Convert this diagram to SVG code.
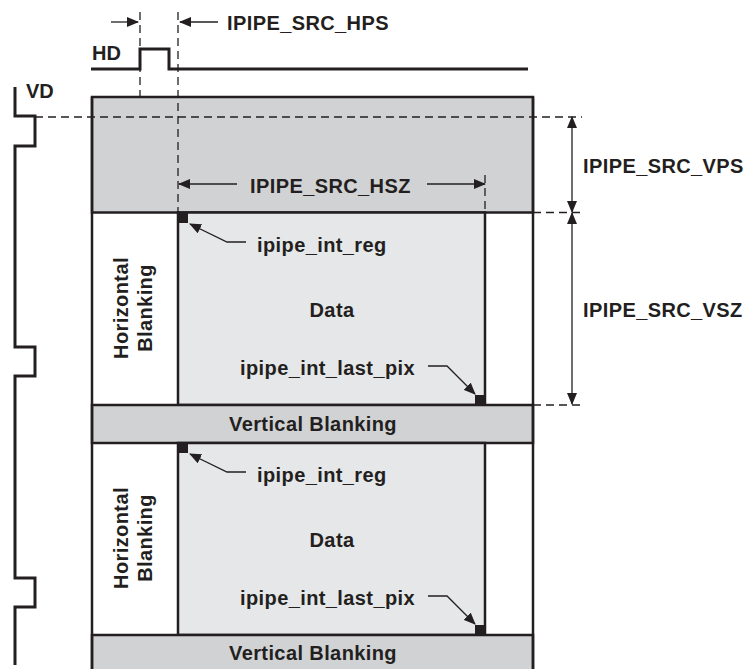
<svg xmlns="http://www.w3.org/2000/svg" width="748" height="669" viewBox="0 0 748 669">
<style>
text{font-family:"Liberation Sans",Arial,sans-serif;font-weight:bold;fill:#231f20;font-size:20px;letter-spacing:0.4px}
.wave{fill:none;stroke:#231f20;stroke-width:3}
.frame{fill:none;stroke:#231f20;stroke-width:2.5}
.dash{fill:none;stroke:#231f20;stroke-width:1.3;stroke-dasharray:8 5}
.thin{fill:none;stroke:#231f20;stroke-width:1.3}
.band{fill:#d1d2d4;stroke:#231f20;stroke-width:2.5}
.data{fill:#e6e7e8;stroke:#231f20;stroke-width:2.5}
.mark{fill:#231f20}
</style>
<defs>
<marker id="ah" markerWidth="12" markerHeight="10" refX="11" refY="5" orient="auto" markerUnits="userSpaceOnUse">
<path d="M0,0 L12,5 L0,10 Z" fill="#231f20"/>
</marker>
</defs>
<rect width="748" height="669" fill="#ffffff"/>

<g id="frame">
<rect x="92" y="97" width="441" height="115.5" class="band"/>
<rect x="178" y="212.5" width="307" height="192.5" class="data"/>
<rect x="92" y="405" width="441" height="38" class="band"/>
<rect x="178" y="443" width="307" height="192" class="data"/>
<rect x="92" y="635" width="441" height="40" class="band"/>
<line x1="92" y1="97" x2="92" y2="669" class="frame"/>
<line x1="533" y1="97" x2="533" y2="669" class="frame"/>
</g>

<g id="hd">
<polyline points="91,69 140,69 140,49 169,49 169,69 528,69" class="wave"/>
<text x="92" y="60" style="letter-spacing:0">HD</text>
</g>

<g id="vd">
<polyline points="15,87 15,116 35,116 35,146 15,146 15,347 35,347 35,376 15,376 15,578 35,578 35,607 15,607 15,665" class="wave"/>
<text x="26" y="98" style="letter-spacing:0">VD</text>
</g>

<g id="hblank1">
<g transform="translate(134,308) rotate(-90)">
<text x="0" y="-6.5" text-anchor="middle">Horizontal</text>
<text x="0" y="17.5" text-anchor="middle">Blanking</text>
</g>
</g>
<g id="data1">
<rect x="179" y="213" width="9" height="10" class="mark"/>
<rect x="475" y="395" width="10" height="10" class="mark"/>
<text x="332" y="317" text-anchor="middle">Data</text>
<text x="257" y="252">ipipe_int_reg</text>
<text x="240" y="375">ipipe_int_last_pix</text>
</g>
<g id="vblank1">
<text x="313" y="431" text-anchor="middle">Vertical Blanking</text>
</g>

<g id="hblank2">
<g transform="translate(134,538) rotate(-90)">
<text x="0" y="-6.5" text-anchor="middle">Horizontal</text>
<text x="0" y="17.5" text-anchor="middle">Blanking</text>
</g>
</g>
<g id="data2">
<rect x="179" y="443" width="9" height="10" class="mark"/>
<rect x="475" y="625" width="10" height="10" class="mark"/>
<text x="332" y="547" text-anchor="middle">Data</text>
<text x="257" y="482">ipipe_int_reg</text>
<text x="240" y="605">ipipe_int_last_pix</text>
</g>
<g id="vblank2">
<text x="313" y="660" text-anchor="middle">Vertical Blanking</text>
</g>

<g id="labels">
<text x="227" y="30">IPIPE_SRC_HPS</text>
<text x="250" y="193">IPIPE_SRC_HSZ</text>
<text x="583" y="173">IPIPE_SRC_VPS</text>
<text x="583" y="317">IPIPE_SRC_VSZ</text>
</g>

<g id="connectors">
<line x1="140" y1="12" x2="140" y2="97" class="dash"/>
<line x1="178" y1="12" x2="178" y2="212" class="dash"/>
<line x1="485" y1="175" x2="485" y2="212" class="dash"/>
<line x1="35" y1="117" x2="582" y2="117" class="dash"/>
<line x1="533" y1="212.5" x2="582" y2="212.5" class="dash"/>
<line x1="533" y1="405" x2="582" y2="405" class="dash"/>
<line x1="111" y1="22" x2="138" y2="22" class="thin" marker-end="url(#ah)"/>
<line x1="218" y1="22" x2="180" y2="22" class="thin" marker-end="url(#ah)"/>
<line x1="237" y1="184" x2="179" y2="184" class="thin" marker-end="url(#ah)"/>
<line x1="427" y1="184" x2="485" y2="184" class="thin" marker-end="url(#ah)"/>
<line x1="572" y1="165" x2="572" y2="117" class="thin" marker-end="url(#ah)"/>
<line x1="572" y1="165" x2="572" y2="212" class="thin" marker-end="url(#ah)"/>
<line x1="572" y1="310" x2="572" y2="213" class="thin" marker-end="url(#ah)"/>
<line x1="572" y1="310" x2="572" y2="404" class="thin" marker-end="url(#ah)"/>
<polyline points="246,242 227,242 190,224" class="thin" marker-end="url(#ah)"/>
<polyline points="428,366 447,366 475,394" class="thin" marker-end="url(#ah)"/>
<polyline points="246,472 227,472 190,454" class="thin" marker-end="url(#ah)"/>
<polyline points="428,596 447,596 475,624" class="thin" marker-end="url(#ah)"/>
</g>
</svg>
